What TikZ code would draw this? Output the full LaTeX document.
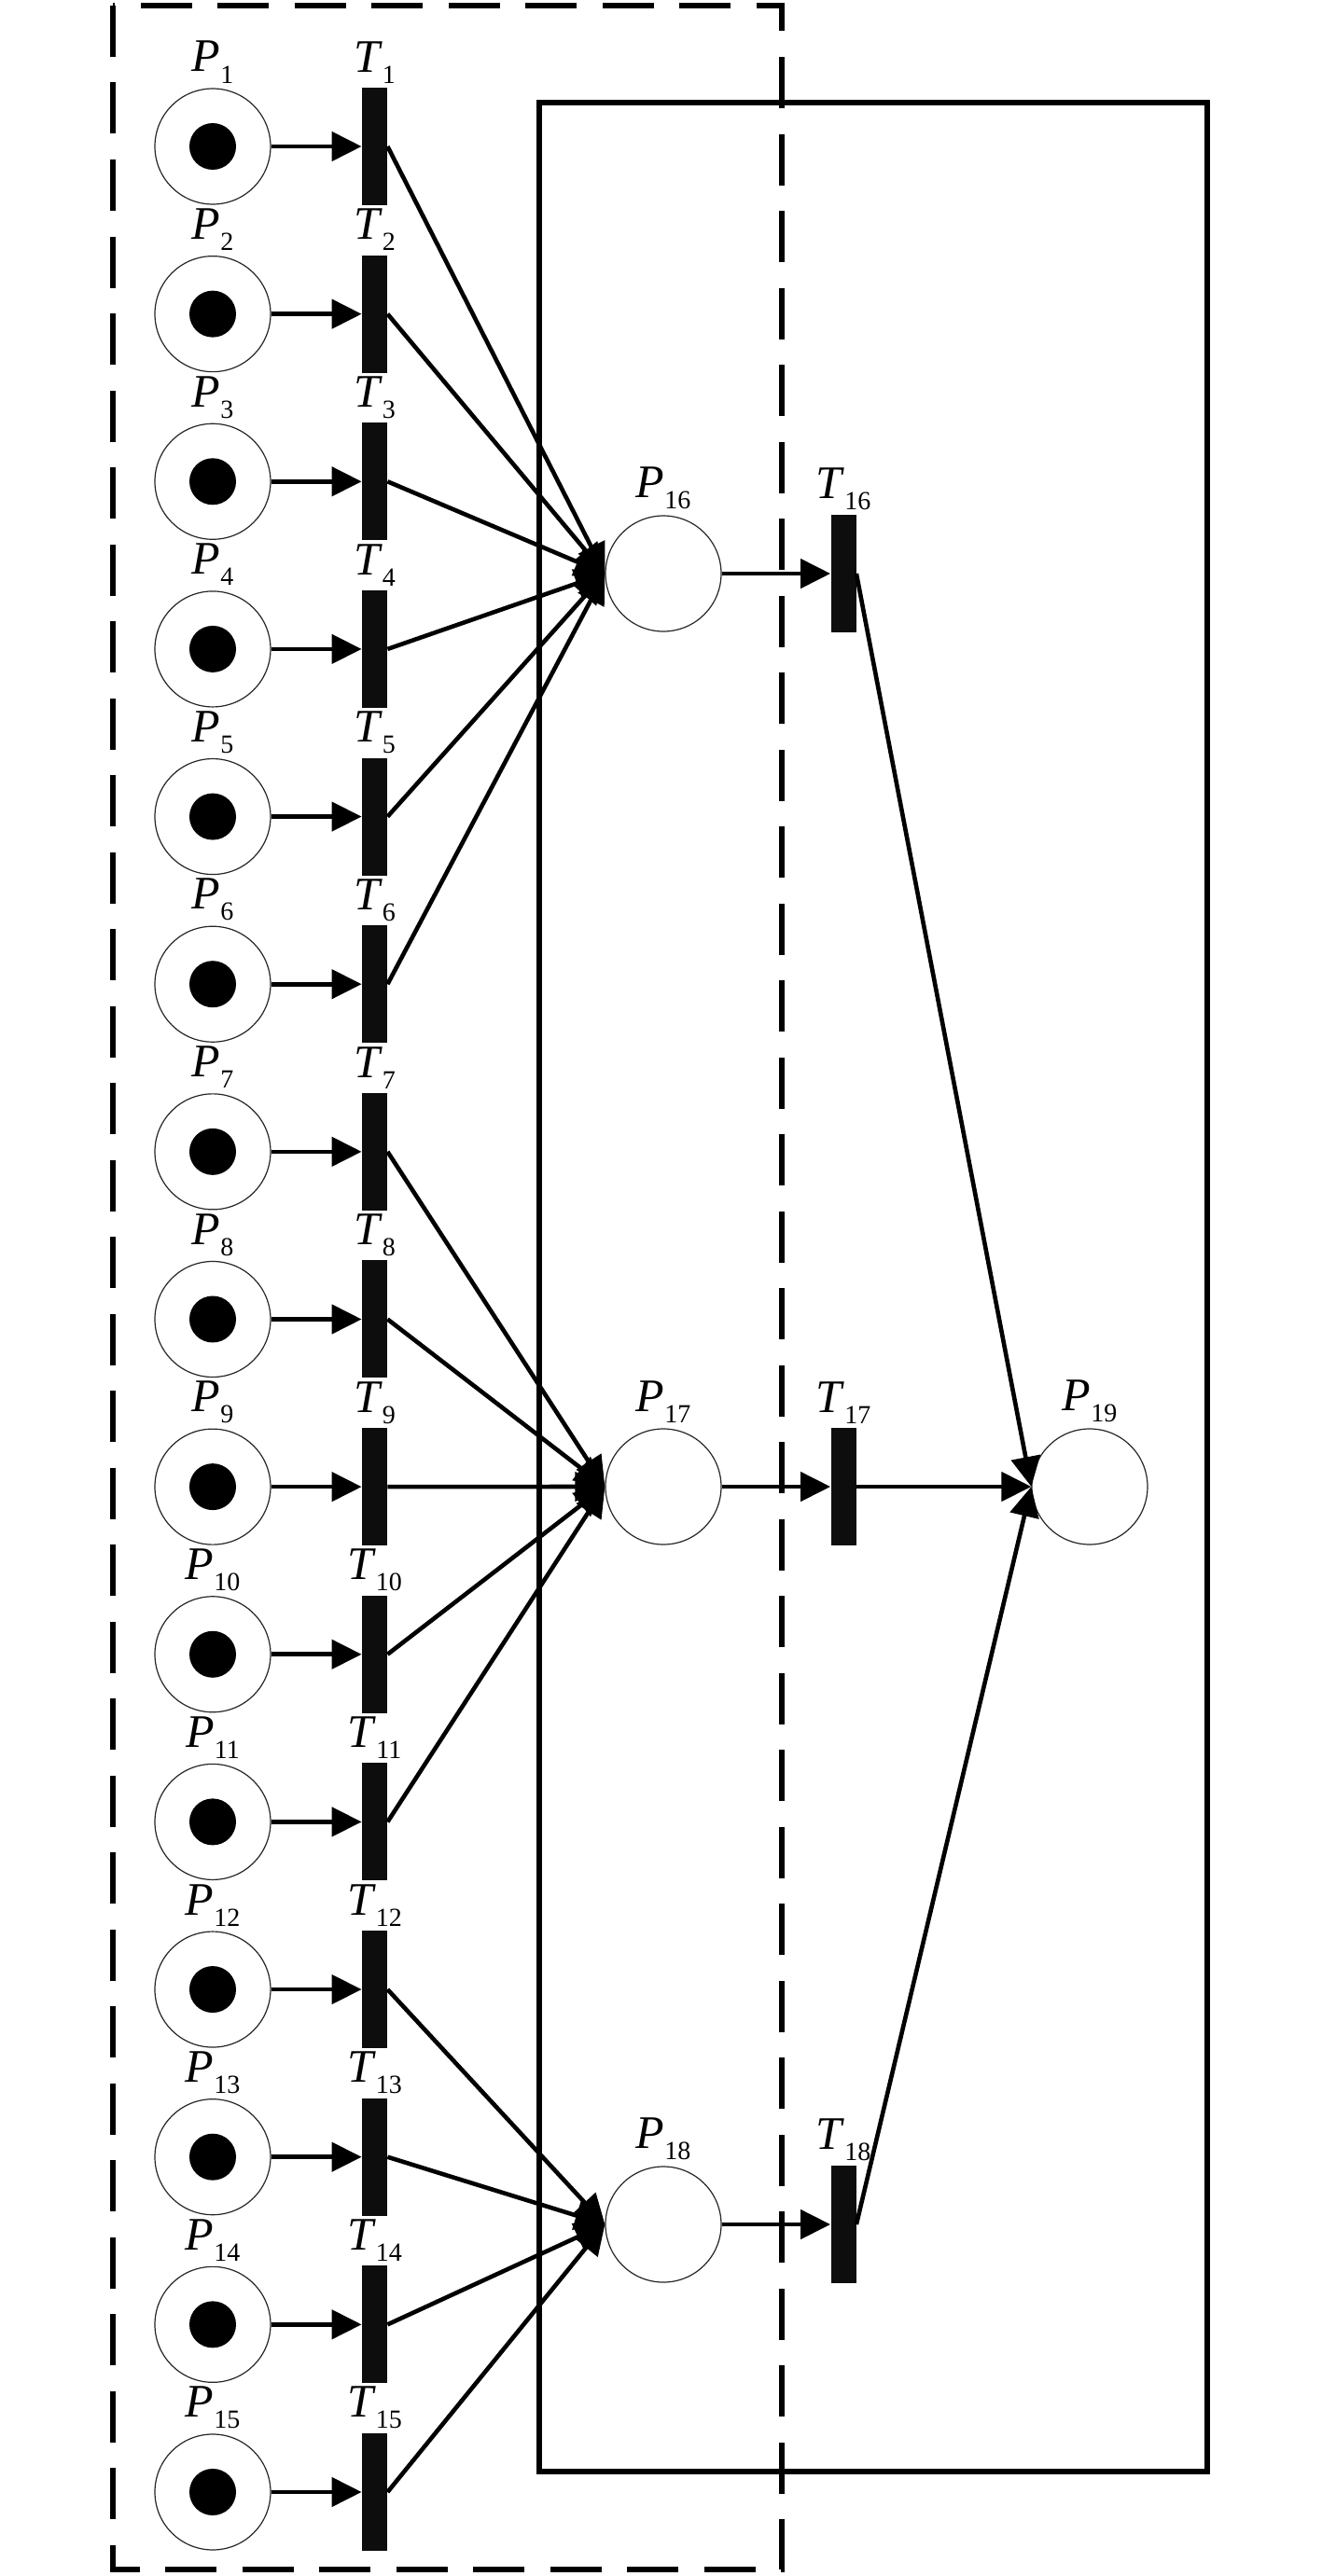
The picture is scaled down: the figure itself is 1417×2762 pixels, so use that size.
\documentclass[tikz,border=0pt]{standalone}
\usepackage{fontspec}
\setmainfont{Liberation Serif}
\usetikzlibrary{arrows.meta}
\newcommand{\petrilbl}[2]{\textit{#1}\raisebox{-6pt}{\fontsize{14pt}{14pt}\selectfont #2}}

\begin{document}
\begin{tikzpicture}[x=0.5pt, y=0.5pt, >={Triangle[length=16pt, width=15.5pt]},
    place/.style={circle, draw=black!85, line width=0.6pt, fill=white, minimum size=62pt, inner sep=0pt},
    token/.style={circle, fill=black, minimum size=25pt, inner sep=0pt},
    trans/.style={rectangle, fill=black!95, minimum width=13.5pt, minimum height=63pt, inner sep=0pt},
    tag/.style={font=\fontsize{25pt}{25pt}\selectfont, inner sep=0pt},
    arc/.style={->, line width=2.3pt}]
\useasboundingbox (0,0) rectangle (1417,-2762);
% frames
\draw[line width=3pt, dash pattern=on 27.5pt off 13.75pt] (121,-6) rectangle (838,-2755);
\draw[line width=3pt] (578,-110) rectangle (1294,-2650);
% input places and transitions
\foreach \i in {1,...,15} {
    \pgfmathsetmacro{\yy}{-157-179.64*(\i-1)}
    \node[place, label={[tag, label distance=2.5pt]above:\petrilbl{P}{\i}}] (P\i) at (228,\yy) {};
    \node[token] (K\i) at (P\i) {};
    \node[trans, label={[tag, label distance=2pt]above:\petrilbl{T}{\i}}] (T\i) at (401.5,\yy) {};
    \draw[arc] (P\i.east) -- (T\i.west);
}
% merging places
\node[place, label={[tag, label distance=3pt]above:\petrilbl{P}{16}}] (P16) at (711,-615) {};
\node[place, label={[tag, label distance=3pt]above:\petrilbl{P}{17}}] (P17) at (711,-1594) {};
\node[place, label={[tag, label distance=3pt]above:\petrilbl{P}{18}}] (P18) at (711,-2385) {};
\node[place, label={[tag, label distance=3pt]above:\petrilbl{P}{19}}] (P19) at (1168,-1594) {};
\node[trans, label={[tag, label distance=2pt]above:\petrilbl{T}{16}}] (T16) at (904,-615) {};
\node[trans, label={[tag, label distance=2pt]above:\petrilbl{T}{17}}] (T17) at (904,-1594) {};
\node[trans, label={[tag, label distance=2pt]above:\petrilbl{T}{18}}] (T18) at (904,-2385) {};
% arcs
\foreach \i in {1,...,6} \draw[arc] (T\i.east) -- (P16.west);
\foreach \i in {7,...,11} \draw[arc] (T\i.east) -- (P17.west);
\foreach \i in {12,...,15} \draw[arc] (T\i.east) -- (P18.west);
\draw[arc] (P16.east) -- (T16.west);
\draw[arc] (P17.east) -- (T17.west);
\draw[arc] (P18.east) -- (T18.west);
\foreach \i in {16,17,18} \draw[arc] (T\i.east) -- (P19.west);
\end{tikzpicture}
\end{document}
